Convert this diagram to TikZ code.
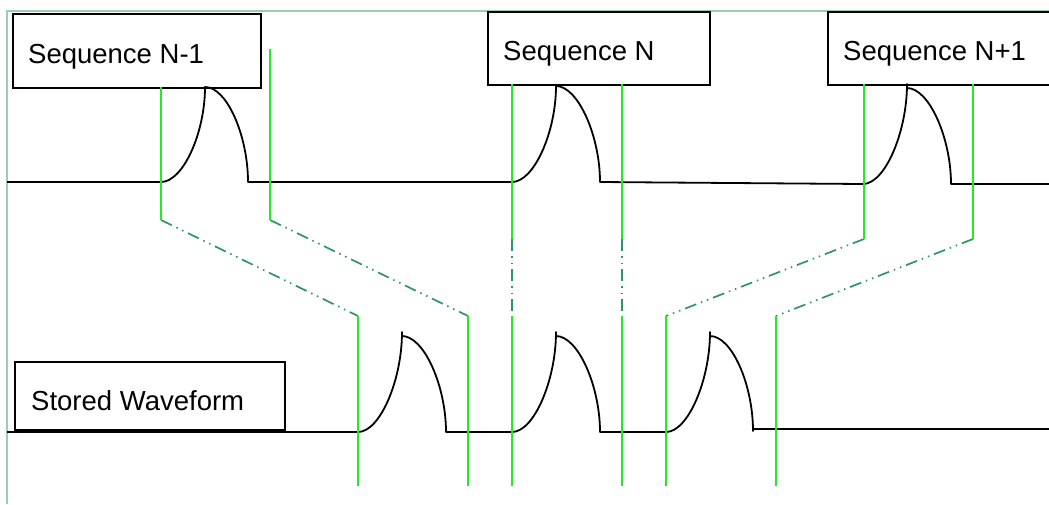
\documentclass[tikz,border=0pt]{standalone}
\usepackage{fontspec}
\setmainfont{Liberation Sans}
\definecolor{framegreen}{RGB}{150,208,178}
\definecolor{markgreen}{RGB}{36,234,36}
\definecolor{linkgreen}{RGB}{46,150,100}

\begin{document}
\begin{tikzpicture}[x=1pt, y=-1pt,
  seqbox/.style={draw, line width=2pt, fill=white, inner sep=0pt, anchor=north west},
  lbl/.style={anchor=base west, inner sep=0pt, font=\fontsize{27.5}{33}\selectfont},
  wave/.style={line width=1.8pt, line join=round},
  greenmark/.style={markgreen, line width=2pt},
  dashlink/.style={linkgreen, line width=1.7pt, dash pattern=on 12pt off 5pt on 1.5pt off 5pt on 1.5pt off 5pt}]
\useasboundingbox (0,0) rectangle (1049,504);
\clip (0,0) rectangle (1049,504);
\fill[white] (0,0) rectangle (1049,504);
% frame
\draw[framegreen, line width=2pt] (7,504) -- (7,11) -- (1060,11);

% sequence boxes
\node[seqbox, minimum width=248pt, minimum height=74pt] (seqA) at (12,13) {};
\node[seqbox, minimum width=222pt, minimum height=73pt] (seqB) at (487,11) {};
\node[seqbox, minimum width=240pt, minimum height=73pt] (seqC) at (827,11) {};
\node[seqbox, minimum width=270pt, minimum height=68pt] (store) at (14,361) {};
\node[lbl] (labA) at (28,63) {Sequence N-1};
\node[lbl] (labB) at (503,60) {Sequence N};
\node[lbl] (labC) at (843,60) {Sequence N+1};
\node[lbl] (labS) at (31,410) {Stored Waveform};

% sequence waveform
\draw[wave] (7,182) -- (161,182)
  .. controls +(22,0) and +(0,46) .. ++(44,-95)
  .. controls +(22,0) and +(0,-46) .. ++(43,95) -- (512,182)
  .. controls +(22,0) and +(0,46) .. ++(44,-96)
  .. controls +(22,0) and +(0,-46) .. ++(44,96) -- (863,184)
  .. controls +(22,0) and +(0,48) .. ++(44,-100) -- ++(0,4)
  .. controls +(22,0) and +(0,-46) .. ++(44,96) -- (1060,184);

% stored waveform
\draw[wave] (7,432) -- (358,432)
  .. controls +(22,0) and +(0,48) .. ++(44,-100) -- ++(0,4)
  .. controls +(22,0) and +(0,-46) .. ++(44,96) -- (512,432)
  .. controls +(22,0) and +(0,48) .. ++(44,-100) -- ++(0,4)
  .. controls +(22,0) and +(0,-46) .. ++(44,96) -- (666,432)
  .. controls +(22,0) and +(0,48) .. ++(44,-100) -- ++(0,4)
  .. controls +(22,0) and +(0,-46) .. ++(43,95) -- ++(0,-2) -- (1060,429);

% marker points
\coordinate (t1) at (161,87);  \coordinate (k1) at (161,220);
\coordinate (t2) at (270,49);  \coordinate (k2) at (270,220);
\coordinate (t3) at (512,84);  \coordinate (k3) at (512,239);
\coordinate (t4) at (622,84);  \coordinate (k4) at (622,239);
\coordinate (t5) at (864,84);  \coordinate (k5) at (864,239);
\coordinate (t6) at (973,84);  \coordinate (k6) at (973,239);
\coordinate (b1) at (358,316); \coordinate (e1) at (358,486);
\coordinate (b2) at (468,316); \coordinate (e2) at (468,486);
\coordinate (b3) at (512,316); \coordinate (e3) at (512,486);
\coordinate (b4) at (622,316); \coordinate (e4) at (622,486);
\coordinate (b5) at (666,316); \coordinate (e5) at (666,486);
\coordinate (b6) at (776,316); \coordinate (e6) at (776,486);

% markers and links
\draw[dashlink] (k1) -- (b1); \draw[dashlink] (k2) -- (b2);
\draw[dashlink] (k3) -- (b3); \draw[dashlink] (k4) -- (b4);
\draw[dashlink] (k5) -- (b5); \draw[dashlink] (k6) -- (b6);
\draw[greenmark] (t1) -- (k1); \draw[greenmark] (t2) -- (k2);
\draw[greenmark] (t3) -- (k3); \draw[greenmark] (t4) -- (k4);
\draw[greenmark] (t5) -- (k5); \draw[greenmark] (t6) -- (k6);
\draw[greenmark] (b1) -- (e1); \draw[greenmark] (b2) -- (e2);
\draw[greenmark] (b3) -- (e3); \draw[greenmark] (b4) -- (e4);
\draw[greenmark] (b5) -- (e5); \draw[greenmark] (b6) -- (e6);
\end{tikzpicture}
\end{document}
